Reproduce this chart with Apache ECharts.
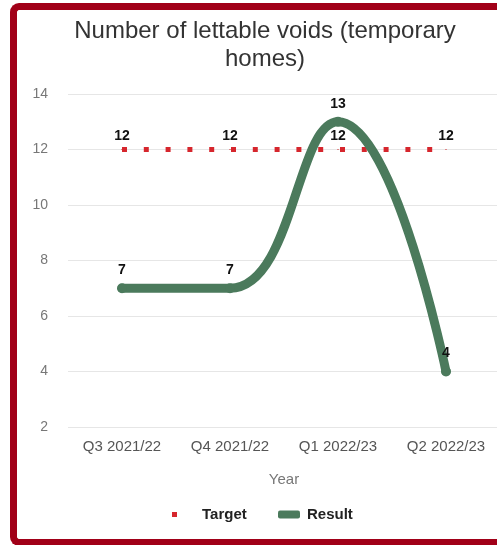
<!DOCTYPE html>
<html>
<head>
<meta charset="utf-8">
<script src="https://cdn.jsdelivr.net/npm/echarts@6/dist/echarts.min.js"></script>
<style>
  html, body { margin: 0; padding: 0; width: 497px; height: 545px; overflow: hidden; background: #fff; }
  #frame { position: absolute; left: 10px; top: 3px; width: 600px; height: 543px; box-sizing: border-box;
           border: 7px solid #a10018; border-right: none; border-radius: 9px 0 0 9px; background: #fff; }
  #chart { position: absolute; left: 0; top: 0; width: 530px; height: 545px; }
</style>
</head>
<body>
<div id="frame"></div>
<div id="chart"></div>
<script>
const categories = ['Q3 2021/22', 'Q4 2021/22', 'Q1 2022/23', 'Q2 2022/23'];
const targetValues = [12, 12, 12, 12];
const resultValues = [7, 7, 13, 4];
const yTicks = { min: 2, max: 14, interval: 2 };

const FONT = '"Liberation Sans", Arial, sans-serif';
const chart = echarts.init(document.getElementById('chart'), null, { renderer: 'canvas' });
chart.setOption({
  animation: false,
  textStyle: { fontFamily: FONT },
  title: {
    text: 'Number of lettable voids (temporary\nhomes)',
    left: 265,
    textAlign: 'center',
    top: 17,
    padding: 0,
    textStyle: { fontFamily: FONT, fontSize: 24, fontWeight: 'normal', color: '#333', lineHeight: 28 }
  },
  legend: [
    {
      data: ['Target'], left: 172, top: 507, padding: 0, selectedMode: false,
      icon: 'rect', itemWidth: 5, itemHeight: 5,
      textStyle: { fontFamily: FONT, fontSize: 15, fontWeight: 'bold', color: '#222', padding: [0, 0, 0, 20] }
    },
    {
      data: ['Result'], left: 278, top: 507, padding: 0, selectedMode: false,
      icon: 'roundRect', itemWidth: 22, itemHeight: 8,
      textStyle: { fontFamily: FONT, fontSize: 15, fontWeight: 'bold', color: '#222', padding: [0, 0, 0, 2] }
    }
  ],
  grid: { left: 68, right: 30, top: 94, bottom: 118, containLabel: false },
  xAxis: {
    type: 'category',
    data: categories,
    boundaryGap: true,
    name: 'Year',
    nameLocation: 'middle',
    nameGap: 45,
    nameTextStyle: { fontFamily: FONT, fontSize: 15, color: '#777' },
    axisLine: { show: false },
    axisTick: { show: false },
    axisLabel: { fontFamily: FONT, fontSize: 15, color: '#555', margin: 12 }
  },
  yAxis: {
    type: 'value',
    min: yTicks.min, max: yTicks.max, interval: yTicks.interval,
    axisLine: { show: false },
    axisTick: { show: false },
    axisLabel: { fontFamily: FONT, fontSize: 14, color: '#777', margin: 20 },
    splitLine: { lineStyle: { color: '#e6e6e6', width: 1 } }
  },
  series: [
    {
      name: 'Target',
      type: 'line',
      data: targetValues,
      showSymbol: true,
      symbol: 'rect',
      symbolSize: 1,
      itemStyle: { color: '#d6262d' },
      lineStyle: { color: '#d6262d', width: 5, type: [5, 16.8], cap: 'butt' },
      label: { show: true, position: 'top', distance: 6, fontFamily: FONT, fontSize: 14, fontWeight: 'bold', color: '#111' },
      emphasis: { disabled: true },
      z: 2
    },
    {
      name: 'Result',
      type: 'line',
      data: resultValues,
      smooth: 0.45,
      symbol: 'circle',
      symbolSize: 10,
      showSymbol: true,
      itemStyle: { color: '#4b7a5c' },
      lineStyle: { color: '#4b7a5c', width: 9, cap: 'round' },
      label: { show: true, position: 'top', distance: 6, fontFamily: FONT, fontSize: 14, fontWeight: 'bold', color: '#111' },
      emphasis: { disabled: true },
      z: 3
    }
  ]
});
</script>
</body>
</html>
